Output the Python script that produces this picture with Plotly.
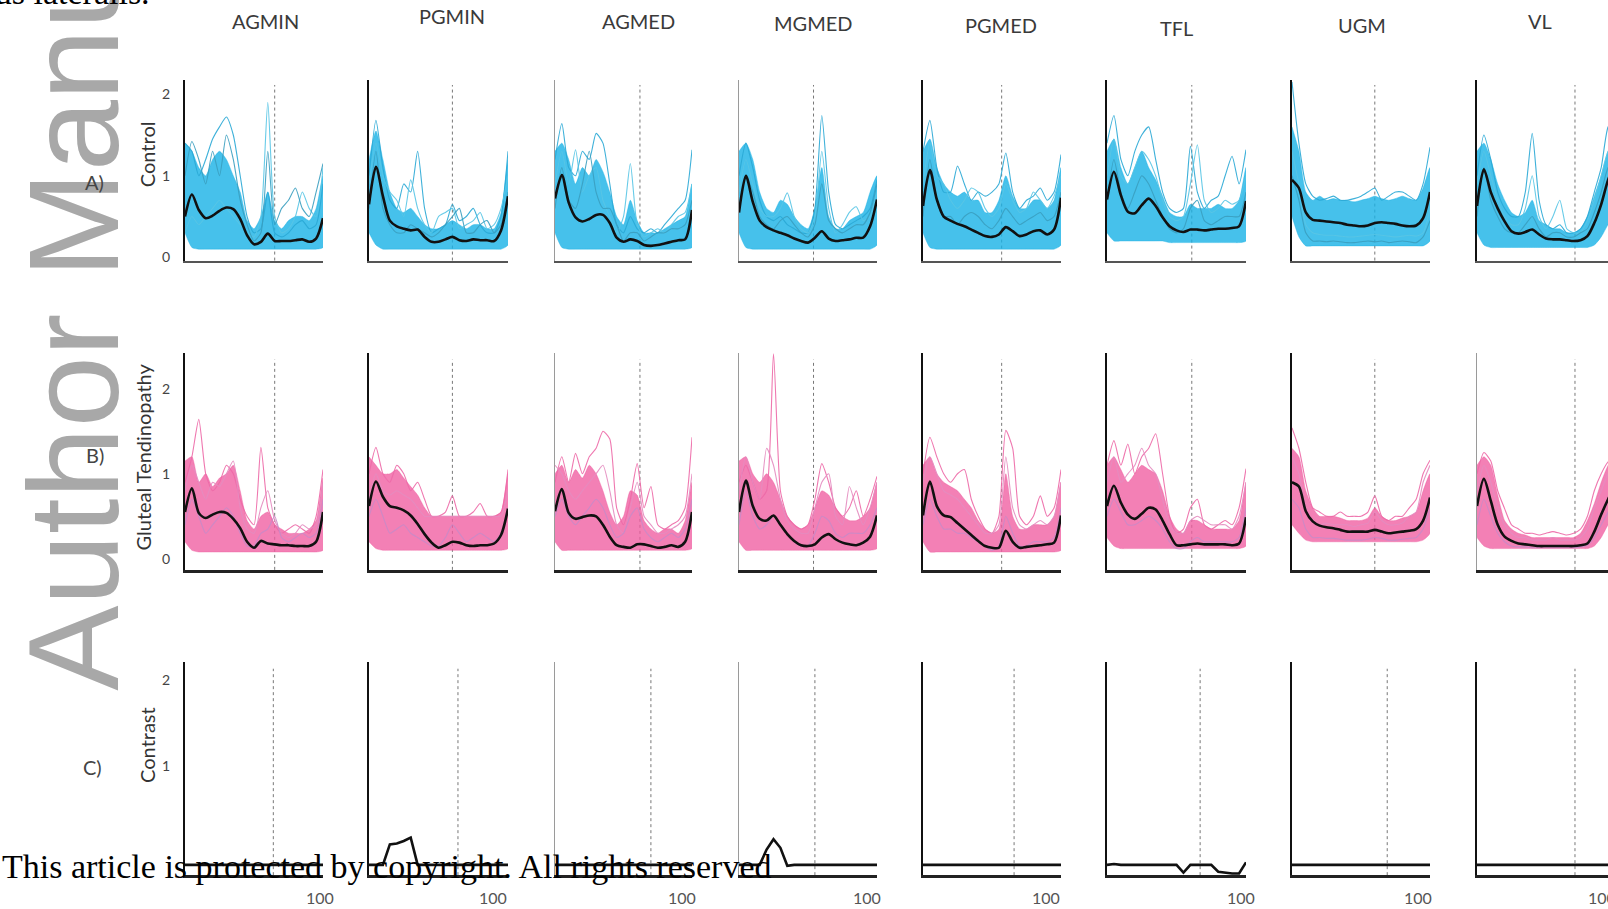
import plotly.graph_objects as go

W, H = 1608, 909

# ---------------- data ----------------
X = [0, 5, 10, 15, 20, 25, 30, 35, 40, 45, 50, 55, 60, 65, 70, 75, 80, 85, 90, 95, 100]
MUSCLES = ["AGMIN", "PGMIN", "AGMED", "MGMED", "PGMED", "TFL", "UGM", "VL"]
ROW_TITLES = ["Control", "Gluteal Tendinopathy", "Contrast"]
ROW_LETTERS = ["A)", "B)", "C)"]
EVENT_AB = [65, 60, 62, 54, 57, 61, 60, 71]
EVENT_C = [64, 64, 70, 55, 66, 67, 69, 71]

# Control (A)
ctl_AGMIN_mean = [0.50,0.77,0.58,0.48,0.51,0.57,0.61,0.59,0.47,0.27,0.16,0.19,0.29,0.20,0.20,0.20,0.21,0.22,0.19,0.23,0.48]
ctl_AGMIN_upper = [1.40,1.30,1.10,1.00,1.20,1.30,1.20,1.00,0.80,0.45,0.35,0.50,0.80,0.45,0.35,0.45,0.50,0.50,0.45,0.60,1.00]
ctl_AGMIN_floor = [0.30,0.12,0.10,0.10,0.10,0.10,0.10,0.10,0.10,0.10,0.10,0.10,0.10,0.10,0.10,0.10,0.10,0.10,0.10,0.10,0.12]
ctl_AGMIN_s1 = [1.40,1.30,1.00,1.20,1.45,1.60,1.72,1.50,1.00,0.50,0.30,0.35,0.80,0.30,0.25,0.30,0.40,0.45,0.35,0.40,0.90]
ctl_AGMIN_s2 = [0.30,0.50,0.40,0.50,0.60,0.70,0.60,0.50,0.40,0.30,0.25,0.50,1.90,0.50,0.30,0.35,0.50,0.80,0.60,0.50,1.10]
ctl_AGMIN_s3 = [1.00,1.42,1.20,0.90,1.30,1.00,1.50,1.20,0.70,0.40,0.20,0.30,1.30,0.40,0.60,0.70,0.85,0.60,0.50,0.80,1.15]

ctl_PGMIN_mean = [0.65,1.11,0.75,0.45,0.38,0.35,0.33,0.34,0.25,0.19,0.19,0.22,0.25,0.21,0.20,0.22,0.21,0.21,0.20,0.33,0.75]
ctl_PGMIN_upper = [1.20,1.55,1.20,0.80,0.60,0.55,0.60,0.50,0.40,0.35,0.35,0.40,0.45,0.40,0.35,0.40,0.40,0.35,0.35,0.55,1.20]
ctl_PGMIN_floor = [0.30,0.15,0.10,0.10,0.10,0.10,0.10,0.10,0.10,0.10,0.10,0.10,0.10,0.10,0.10,0.10,0.10,0.10,0.10,0.10,0.15]
ctl_PGMIN_s1 = [1.00,1.68,1.10,0.70,0.60,0.90,0.80,1.30,0.60,0.30,0.35,0.40,0.65,0.45,0.50,0.60,0.40,0.30,0.30,0.50,1.30]
ctl_PGMIN_s2 = [0.90,1.40,1.00,0.80,0.70,0.50,0.95,0.60,0.40,0.30,0.50,0.55,0.60,0.35,0.40,0.45,0.55,0.35,0.40,0.60,1.00]
ctl_PGMIN_s3 = [0.60,1.30,0.60,0.40,0.30,0.30,0.40,0.35,0.30,0.25,0.30,0.40,0.50,0.60,0.30,0.30,0.40,0.45,0.30,0.40,0.80]

ctl_AGMED_mean = [0.72,1.01,0.67,0.49,0.44,0.47,0.52,0.52,0.42,0.24,0.19,0.22,0.20,0.15,0.14,0.15,0.17,0.19,0.21,0.22,0.58]
ctl_AGMED_upper = [1.30,1.40,1.20,0.90,1.10,1.00,1.20,1.05,0.80,0.50,0.40,0.70,0.45,0.30,0.30,0.30,0.35,0.40,0.45,0.50,0.90]
ctl_AGMED_floor = [0.30,0.12,0.10,0.10,0.10,0.10,0.10,0.10,0.10,0.10,0.10,0.10,0.10,0.10,0.10,0.10,0.10,0.10,0.10,0.10,0.12]
ctl_AGMED_s1 = [1.20,1.64,1.10,1.00,1.30,1.20,1.52,1.40,0.90,0.40,0.30,0.50,0.35,0.30,0.35,0.30,0.40,0.50,0.60,0.70,1.32]
ctl_AGMED_s2 = [0.90,1.30,0.90,1.32,0.80,1.00,1.10,0.70,0.50,0.30,0.50,1.15,0.40,0.25,0.30,0.35,0.30,0.40,0.50,0.55,0.90]
ctl_AGMED_s3 = [0.60,1.10,0.70,0.60,0.90,1.30,0.80,0.60,0.60,0.40,0.20,0.30,0.30,0.20,0.25,0.30,0.30,0.35,0.35,0.40,0.70]

ctl_MGMED_mean = [0.55,1.00,0.68,0.45,0.37,0.33,0.30,0.27,0.23,0.20,0.18,0.24,0.32,0.23,0.20,0.21,0.22,0.24,0.24,0.38,0.71]
ctl_MGMED_upper = [1.30,1.40,1.20,0.80,0.60,0.55,0.70,0.65,0.50,0.40,0.35,0.60,1.10,0.50,0.35,0.35,0.45,0.50,0.55,0.80,1.00]
ctl_MGMED_floor = [0.30,0.12,0.10,0.10,0.10,0.10,0.10,0.10,0.10,0.10,0.10,0.10,0.10,0.10,0.10,0.10,0.10,0.10,0.10,0.10,0.15]
ctl_MGMED_s1 = [1.00,1.40,1.10,0.70,0.50,0.45,0.50,0.40,0.35,0.30,0.30,0.60,1.74,0.80,0.40,0.35,0.40,0.45,0.50,0.60,0.95]
ctl_MGMED_s2 = [0.80,1.20,0.90,0.60,0.50,0.50,0.60,0.79,0.50,0.35,0.30,0.50,1.30,0.60,0.30,0.40,0.55,0.62,0.45,0.50,0.80]
ctl_MGMED_s3 = [0.60,1.00,0.80,0.50,0.40,0.35,0.45,0.50,0.40,0.30,0.25,0.40,0.90,0.45,0.35,0.30,0.35,0.40,0.40,0.55,0.90]

ctl_PGMED_mean = [0.63,1.07,0.71,0.50,0.45,0.41,0.38,0.34,0.30,0.26,0.25,0.28,0.37,0.32,0.26,0.28,0.32,0.33,0.28,0.34,0.73]
ctl_PGMED_upper = [1.30,1.45,1.10,0.90,0.80,0.75,0.80,0.70,0.70,0.55,0.55,0.70,1.00,0.75,0.60,0.60,0.70,0.70,0.60,0.70,1.10]
ctl_PGMED_floor = [0.30,0.12,0.10,0.10,0.10,0.10,0.10,0.10,0.10,0.10,0.10,0.10,0.10,0.10,0.10,0.10,0.10,0.10,0.10,0.10,0.15]
ctl_PGMED_s1 = [1.30,1.68,1.10,0.80,0.80,1.12,0.90,0.70,0.80,0.75,0.80,0.90,1.28,0.80,0.60,0.70,0.75,0.85,0.70,0.80,1.26]
ctl_PGMED_s2 = [0.90,1.40,1.00,0.90,0.70,0.60,0.70,0.85,0.80,0.60,0.50,0.60,0.90,0.70,0.55,0.60,0.80,0.70,0.60,0.75,1.00]
ctl_PGMED_s3 = [0.50,1.20,0.70,0.50,0.50,0.40,0.50,0.55,0.50,0.40,0.35,0.45,0.60,0.50,0.40,0.45,0.50,0.55,0.45,0.50,0.80]

ctl_TFL_mean = [0.71,1.05,0.76,0.56,0.54,0.64,0.72,0.63,0.49,0.38,0.33,0.31,0.34,0.34,0.33,0.34,0.35,0.35,0.36,0.38,0.69]
ctl_TFL_upper = [1.30,1.45,1.10,0.90,1.10,1.30,1.10,0.95,0.75,0.55,0.50,0.50,0.65,0.60,0.60,0.60,0.65,0.60,0.60,0.70,1.10]
ctl_TFL_floor = [0.30,0.20,0.20,0.20,0.20,0.20,0.20,0.20,0.20,0.18,0.18,0.18,0.18,0.18,0.18,0.18,0.18,0.18,0.18,0.18,0.20]
ctl_TFL_s1 = [1.40,1.74,1.20,1.00,1.30,1.50,1.60,1.20,0.80,0.60,0.55,0.60,1.36,0.80,0.60,0.70,0.75,1.00,1.24,0.90,1.32]
ctl_TFL_s2 = [1.00,1.45,1.00,0.90,1.10,1.30,1.20,1.00,0.70,0.50,0.45,0.50,0.90,1.38,0.70,0.55,0.60,0.70,0.65,0.70,1.00]
ctl_TFL_s3 = [0.70,1.20,0.80,0.60,0.80,1.00,0.90,0.70,0.50,0.35,0.30,0.35,0.60,0.70,0.45,0.40,0.45,0.50,0.50,0.50,0.80]

ctl_UGM_mean = [0.95,0.85,0.55,0.46,0.45,0.44,0.43,0.42,0.40,0.39,0.38,0.39,0.42,0.43,0.42,0.41,0.39,0.38,0.39,0.48,0.80]
ctl_UGM_upper = [1.60,1.30,0.80,0.70,0.75,0.70,0.72,0.70,0.70,0.68,0.70,0.72,0.75,0.72,0.70,0.72,0.75,0.72,0.70,0.85,1.10]
ctl_UGM_floor = [0.50,0.25,0.14,0.14,0.14,0.14,0.14,0.14,0.14,0.14,0.14,0.14,0.14,0.14,0.14,0.14,0.14,0.14,0.14,0.14,0.20]
ctl_UGM_s1 = [2.15,1.40,0.90,0.75,0.70,0.72,0.75,0.70,0.70,0.72,0.75,0.80,0.85,0.70,0.75,0.80,0.80,0.75,0.70,0.90,1.35]
ctl_UGM_s2 = [1.30,0.90,0.40,0.30,0.28,0.27,0.27,0.26,0.25,0.25,0.26,0.27,0.28,0.27,0.26,0.25,0.26,0.27,0.26,0.30,0.60]
ctl_UGM_s3 = [1.00,0.70,0.30,0.20,0.20,0.19,0.20,0.19,0.18,0.18,0.19,0.20,0.19,0.20,0.18,0.19,0.20,0.19,0.18,0.25,0.45]

ctl_VL_mean = [0.63,1.08,0.80,0.60,0.44,0.32,0.29,0.31,0.34,0.28,0.23,0.22,0.22,0.21,0.20,0.21,0.26,0.42,0.65,0.95,1.15]
ctl_VL_upper = [1.30,1.40,1.20,0.90,0.70,0.55,0.50,0.55,0.70,0.45,0.40,0.35,0.35,0.30,0.30,0.35,0.50,0.75,1.00,1.30,1.40]
ctl_VL_floor = [0.30,0.15,0.12,0.12,0.12,0.12,0.12,0.12,0.12,0.12,0.12,0.12,0.12,0.12,0.12,0.12,0.12,0.15,0.25,0.40,0.50]
ctl_VL_s1 = [1.00,1.50,1.20,0.80,0.60,0.50,0.50,0.80,1.52,0.70,0.40,0.35,0.40,0.30,0.30,0.35,0.50,0.80,1.10,1.60,1.70]
ctl_VL_s2 = [0.90,1.30,1.00,0.70,0.50,0.40,0.40,0.60,1.00,0.50,0.35,0.50,0.70,0.35,0.30,0.30,0.45,0.70,1.00,1.30,1.40]
ctl_VL_s3 = [0.50,1.10,0.70,0.50,0.35,0.30,0.30,0.40,0.50,0.35,0.25,0.30,0.30,0.25,0.25,0.30,0.35,0.55,0.80,1.10,1.20]

# Gluteal tendinopathy (B)
gt_AGMIN_mean = [0.55,0.83,0.54,0.48,0.52,0.55,0.54,0.47,0.36,0.20,0.13,0.21,0.18,0.17,0.16,0.16,0.15,0.15,0.15,0.20,0.55]
gt_AGMIN_upper = [1.15,1.20,0.90,1.00,0.85,0.95,1.00,1.10,0.80,0.45,0.35,0.50,0.55,0.40,0.35,0.30,0.30,0.30,0.35,0.45,0.95]
gt_AGMIN_floor = [0.20,0.10,0.08,0.08,0.08,0.08,0.08,0.08,0.08,0.08,0.08,0.08,0.08,0.08,0.08,0.08,0.08,0.08,0.08,0.08,0.10]
gt_AGMIN_s1 = [0.90,1.20,1.64,1.00,0.80,0.90,1.10,1.00,0.70,0.50,0.40,1.31,0.60,0.40,0.30,0.35,0.40,0.35,0.30,0.50,1.05]
gt_AGMIN_s2 = [0.80,1.10,0.90,0.70,0.90,0.85,1.00,1.15,0.60,0.35,0.30,0.60,0.80,0.45,0.30,0.25,0.30,0.40,0.35,0.40,0.90]
gt_AGMIN_s3 = [0.40,0.70,0.50,0.30,0.40,0.50,0.60,0.50,0.30,0.15,0.15,0.30,0.35,0.50,0.25,0.20,0.25,0.30,0.25,0.30,0.70]

gt_PGMIN_mean = [0.62,0.91,0.73,0.62,0.60,0.57,0.51,0.41,0.29,0.19,0.13,0.16,0.20,0.19,0.16,0.15,0.16,0.16,0.18,0.28,0.59]
gt_PGMIN_upper = [1.20,1.10,1.00,1.00,1.05,0.95,0.85,0.75,0.60,0.50,0.50,0.50,0.50,0.50,0.50,0.50,0.50,0.50,0.50,0.55,1.00]
gt_PGMIN_floor = [0.20,0.12,0.10,0.10,0.10,0.10,0.10,0.10,0.10,0.10,0.10,0.10,0.10,0.10,0.10,0.10,0.10,0.10,0.10,0.10,0.12]
gt_PGMIN_s1 = [1.00,1.31,1.00,0.90,1.10,1.00,0.80,0.90,0.70,0.50,0.50,0.55,0.74,0.50,0.50,0.55,0.65,0.50,0.50,0.55,1.05]
gt_PGMIN_s2 = [0.70,1.00,0.80,0.75,0.80,0.75,0.70,0.60,0.50,0.50,0.50,0.50,0.50,0.50,0.50,0.50,0.50,0.50,0.50,0.50,0.80]
gt_PGMIN_s3 = [0.50,0.70,0.50,0.30,0.35,0.40,0.30,0.25,0.20,0.15,0.15,0.25,0.40,0.30,0.20,0.25,0.30,0.25,0.20,0.30,0.60]

gt_AGMED_mean = [0.56,0.82,0.54,0.47,0.49,0.51,0.50,0.40,0.26,0.16,0.14,0.13,0.17,0.17,0.15,0.13,0.14,0.16,0.14,0.20,0.55]
gt_AGMED_upper = [1.00,1.10,0.90,1.05,0.95,1.10,1.00,0.80,0.55,0.40,0.50,0.80,0.75,0.45,0.35,0.30,0.35,0.35,0.30,0.45,0.90]
gt_AGMED_floor = [0.20,0.10,0.10,0.10,0.10,0.10,0.10,0.10,0.10,0.10,0.10,0.10,0.10,0.10,0.10,0.10,0.10,0.10,0.10,0.10,0.12]
gt_AGMED_s1 = [0.90,1.20,0.90,1.24,1.00,1.20,1.30,1.50,1.41,0.60,0.40,0.70,1.12,0.60,0.85,0.40,0.35,0.40,0.45,0.60,1.43]
gt_AGMED_s2 = [1.10,1.00,0.80,0.70,0.80,0.90,1.00,1.10,0.80,0.40,0.30,0.60,0.90,0.50,0.40,0.30,0.30,0.35,0.40,0.50,1.00]
gt_AGMED_s3 = [0.50,0.70,0.50,0.40,0.50,0.60,0.70,0.60,0.40,0.25,0.30,0.50,0.60,0.35,0.25,0.20,0.25,0.30,0.25,0.35,0.70]

gt_MGMED_mean = [0.55,0.92,0.62,0.47,0.45,0.51,0.40,0.29,0.21,0.16,0.15,0.17,0.25,0.29,0.23,0.19,0.17,0.16,0.19,0.26,0.51]
gt_MGMED_upper = [1.15,1.20,1.00,0.90,1.00,0.90,0.70,0.50,0.40,0.35,0.40,0.60,0.80,0.75,0.60,0.50,0.45,0.45,0.50,0.60,0.90]
gt_MGMED_floor = [0.20,0.10,0.10,0.10,0.10,0.10,0.10,0.10,0.10,0.10,0.10,0.10,0.10,0.10,0.10,0.10,0.10,0.10,0.10,0.10,0.12]
gt_MGMED_s1 = [0.90,1.10,0.90,0.70,0.80,2.41,0.80,0.50,0.40,0.35,0.40,0.70,1.12,0.90,0.60,0.50,0.60,0.80,0.50,0.70,0.97]
gt_MGMED_s2 = [0.80,1.20,0.90,0.70,1.30,1.10,0.70,0.45,0.35,0.30,0.30,0.60,0.90,1.00,0.50,0.40,0.85,0.60,0.40,0.60,0.90]
gt_MGMED_s3 = [0.40,0.80,0.50,0.35,0.40,0.50,0.40,0.30,0.20,0.15,0.15,0.30,0.50,0.45,0.30,0.25,0.30,0.30,0.30,0.40,0.60]

gt_PGMED_mean = [0.51,0.91,0.62,0.51,0.49,0.42,0.35,0.28,0.21,0.15,0.13,0.13,0.33,0.20,0.13,0.14,0.15,0.16,0.17,0.19,0.51]
gt_PGMED_upper = [1.10,1.20,1.00,0.90,0.85,0.80,0.70,0.60,0.45,0.35,0.30,0.35,1.00,0.50,0.35,0.35,0.40,0.40,0.40,0.50,0.90]
gt_PGMED_floor = [0.20,0.08,0.08,0.08,0.08,0.08,0.08,0.08,0.08,0.08,0.08,0.08,0.08,0.08,0.08,0.08,0.08,0.08,0.08,0.08,0.10]
gt_PGMED_s1 = [1.00,1.43,1.20,1.00,0.90,1.00,1.05,0.70,0.50,0.35,0.30,0.50,1.51,1.30,0.50,0.40,0.50,0.74,0.50,0.60,1.05]
gt_PGMED_s2 = [0.90,1.20,1.00,0.80,0.75,0.70,0.60,0.50,0.40,0.30,0.30,0.40,1.20,0.60,0.40,0.35,0.40,0.45,0.40,0.50,0.90]
gt_PGMED_s3 = [0.40,0.70,0.50,0.35,0.35,0.30,0.30,0.25,0.20,0.15,0.10,0.15,0.50,0.30,0.15,0.15,0.20,0.20,0.20,0.25,0.60]

gt_TFL_mean = [0.62,0.86,0.66,0.52,0.47,0.53,0.60,0.58,0.45,0.29,0.16,0.16,0.17,0.18,0.17,0.17,0.17,0.17,0.16,0.18,0.49]
gt_TFL_upper = [1.10,1.20,1.05,0.90,1.00,1.10,1.05,1.00,0.80,0.50,0.35,0.30,0.45,0.45,0.40,0.35,0.35,0.35,0.35,0.45,0.90]
gt_TFL_floor = [0.25,0.15,0.12,0.12,0.12,0.12,0.12,0.12,0.12,0.12,0.12,0.12,0.12,0.12,0.12,0.12,0.12,0.12,0.12,0.12,0.15]
gt_TFL_s1 = [1.10,1.39,1.10,1.35,1.00,1.20,1.30,1.47,1.00,0.50,0.30,0.35,0.60,0.70,0.40,0.35,0.40,0.45,0.40,0.60,1.06]
gt_TFL_s2 = [0.90,1.20,0.90,1.00,1.10,1.30,1.10,1.00,0.70,0.40,0.30,0.30,0.45,0.50,0.45,0.40,0.40,0.40,0.35,0.50,0.90]
gt_TFL_s3 = [0.50,0.70,0.55,0.40,0.40,0.45,0.50,0.45,0.35,0.20,0.12,0.12,0.20,0.25,0.20,0.20,0.20,0.20,0.20,0.25,0.60]

gt_UGM_mean = [0.90,0.85,0.56,0.44,0.39,0.37,0.36,0.34,0.32,0.32,0.32,0.32,0.34,0.32,0.30,0.31,0.32,0.33,0.35,0.45,0.72]
gt_UGM_upper = [1.30,1.20,0.80,0.60,0.50,0.50,0.50,0.48,0.45,0.45,0.45,0.48,0.60,0.50,0.45,0.45,0.48,0.50,0.55,0.80,1.00]
gt_UGM_floor = [0.40,0.30,0.22,0.20,0.20,0.20,0.20,0.20,0.20,0.20,0.20,0.20,0.20,0.20,0.20,0.20,0.20,0.20,0.20,0.22,0.30]
gt_UGM_s1 = [1.54,1.30,0.90,0.60,0.55,0.50,0.50,0.55,0.50,0.50,0.50,0.55,0.74,0.50,0.45,0.50,0.50,0.60,0.70,1.00,1.16]
gt_UGM_s2 = [1.20,1.00,0.60,0.45,0.40,0.42,0.40,0.40,0.40,0.38,0.40,0.42,0.55,0.45,0.40,0.40,0.42,0.50,0.55,0.90,1.10]
gt_UGM_s3 = [0.70,0.60,0.35,0.25,0.25,0.24,0.24,0.23,0.22,0.22,0.22,0.23,0.25,0.24,0.22,0.22,0.23,0.24,0.25,0.35,0.60]

gt_VL_mean = [0.62,0.94,0.68,0.40,0.26,0.21,0.18,0.17,0.16,0.15,0.15,0.15,0.15,0.15,0.15,0.16,0.18,0.32,0.52,0.70,0.85]
gt_VL_upper = [1.10,1.20,1.10,0.75,0.45,0.35,0.30,0.28,0.25,0.25,0.25,0.25,0.25,0.25,0.25,0.30,0.45,0.65,0.90,1.10,1.20]
gt_VL_floor = [0.25,0.15,0.12,0.12,0.12,0.12,0.12,0.12,0.12,0.12,0.12,0.12,0.12,0.12,0.12,0.12,0.12,0.15,0.25,0.40,0.50]
gt_VL_s1 = [1.00,1.25,1.15,0.80,0.59,0.40,0.35,0.30,0.30,0.28,0.30,0.32,0.30,0.28,0.30,0.35,0.50,0.80,1.00,1.14,1.20]
gt_VL_s2 = [0.80,1.10,0.90,0.60,0.40,0.30,0.25,0.25,0.22,0.22,0.22,0.25,0.22,0.22,0.22,0.25,0.35,0.60,0.80,1.00,1.10]
gt_VL_s3 = [0.40,0.70,0.50,0.30,0.20,0.15,0.14,0.14,0.13,0.13,0.13,0.13,0.13,0.13,0.13,0.14,0.16,0.25,0.40,0.55,0.70]

# Contrast (C)
con_AGMIN = [-0.16,-0.16,-0.16,-0.16,-0.16,-0.16,-0.16,-0.16,-0.16,-0.16,-0.16,-0.16,-0.16,-0.16,-0.16,-0.16,-0.16,-0.16,-0.16,-0.16,-0.16]
con_PGMIN = [-0.16,-0.16,-0.16,0.08,0.09,0.12,0.16,-0.16,-0.16,-0.16,-0.16,-0.16,-0.16,-0.16,-0.16,-0.16,-0.16,-0.16,-0.16,-0.16,-0.16]
con_AGMED = [-0.16,-0.16,-0.16,-0.16,-0.16,-0.16,-0.16,-0.16,-0.16,-0.16,-0.16,-0.16,-0.16,-0.16,-0.16,-0.16,-0.16,-0.16,-0.16,-0.16,-0.16]
con_MGMED = [-0.16,-0.16,-0.16,-0.16,0.02,0.14,0.04,-0.17,-0.16,-0.16,-0.16,-0.16,-0.16,-0.16,-0.16,-0.16,-0.16,-0.16,-0.16,-0.16,-0.16]
con_PGMED = [-0.16,-0.16,-0.16,-0.16,-0.16,-0.16,-0.16,-0.16,-0.16,-0.16,-0.16,-0.16,-0.16,-0.16,-0.16,-0.16,-0.16,-0.16,-0.16,-0.16,-0.16]
con_TFL = [-0.16,-0.15,-0.16,-0.16,-0.16,-0.16,-0.16,-0.16,-0.16,-0.16,-0.16,-0.25,-0.16,-0.16,-0.16,-0.16,-0.24,-0.25,-0.26,-0.26,-0.13]
con_UGM = [-0.16,-0.16,-0.16,-0.16,-0.16,-0.16,-0.16,-0.16,-0.16,-0.16,-0.16,-0.16,-0.16,-0.16,-0.16,-0.16,-0.16,-0.16,-0.16,-0.16,-0.16]
con_VL = [-0.16,-0.16,-0.16,-0.16,-0.16,-0.16,-0.16,-0.16,-0.16,-0.16,-0.16,-0.16,-0.16,-0.16,-0.16,-0.16,-0.16,-0.16,-0.16,-0.16,-0.16]

# ---------------- assemble ----------------
g = globals()
GROUPS = []
for prefix in ["ctl", "gt"]:
    GROUPS.append([dict(mean=g[f"{prefix}_{m}_mean"], upper=g[f"{prefix}_{m}_upper"],
                        floor=g[f"{prefix}_{m}_floor"],
                        singles=[g[f"{prefix}_{m}_s1"], g[f"{prefix}_{m}_s2"], g[f"{prefix}_{m}_s3"]])
                   for m in MUSCLES])
CONTRAST = [g[f"con_{m}"] for m in MUSCLES]

FILL = ["rgba(24,178,230,0.80)", "rgba(240,92,160,0.78)"]
SINGLE = [["#2aa9d6", "#58c6e6", "#3a9fc0"], ["#ee6aa8", "#e58cc0", "#c98ac8"]]

col_left = [185, 369, 555, 739, 923, 1107, 1292, 1477]
col_right = [323, 508, 692, 877, 1061, 1246, 1430, 1608]
panel_w = 138.0
row_top = [80, 355, 666]
row_bot = [262, 573, 880]
row_yrange = [[-0.04, 2.18], [-0.13, 2.42], [-0.28, 2.21]]
xline = [("#555555", 2), ("#222222", 2.5), ("#222222", 2.5)]
yline_kind = [[1, 1, 0, 0, 1, 1, 1, 1], [1, 1, 0, 0, 1, 1, 1, 0], [1, 1, 0, 0, 1, 1, 1, 1]]
label100_shift = [-3, -15, -10, -10, -15, -5, -12, -13]

fig = go.Figure()
shapes = []
layout_axes = {}

def ax_names(n):
    return ("x" if n == 1 else f"x{n}", "y" if n == 1 else f"y{n}",
            "xaxis" if n == 1 else f"xaxis{n}", "yaxis" if n == 1 else f"yaxis{n}")

xmaxes = []
for r in range(3):
    for c in range(8):
        n = r * 8 + c + 1
        xr, yr, xa, ya = ax_names(n)
        xmax = 100 * (col_right[c] - col_left[c]) / panel_w if c == 7 else 100
        if r == 0:
            xmaxes.append(xmax)
        layout_axes[xa] = dict(domain=[col_left[c] / W, col_right[c] / W], range=[0, xmax],
                               anchor=yr, showgrid=False, zeroline=False, showticklabels=False,
                               ticks="", showline=True, linecolor=xline[r][0], linewidth=xline[r][1])
        kind = yline_kind[r][c]
        yl = dict(domain=[1 - row_bot[r] / H, 1 - row_top[r] / H], range=row_yrange[r],
                  anchor=xr, showgrid=False, zeroline=False, ticks="",
                  showline=True, linecolor="#111111" if kind else "#9a9a9a",
                  linewidth=2 if kind else 1)
        if c == 0:
            yl.update(showticklabels=True, tickvals=[0, 1, 2] if r < 2 else [1, 2],
                      tickfont=dict(family="Lato", size=14, color="#444444"), ticklabelstandoff=10)
        else:
            yl.update(showticklabels=False)
        layout_axes[ya] = yl
        ev = EVENT_AB[c] if r < 2 else EVENT_C[c]
        shapes.append(dict(type="line", xref=xr, yref=f"{yr} domain", x0=ev, x1=ev, y0=0, y1=0.97,
                           line=dict(color="#777777", width=1, dash="dot"), layer="below"))
        if r < 2:
            d = GROUPS[r][c]
            fig.add_trace(go.Scatter(x=X + X[::-1], y=d["upper"] + d["floor"][::-1], xaxis=xr, yaxis=yr,
                                     mode="lines", fill="toself", fillcolor=FILL[r],
                                     line=dict(color=FILL[r], width=0.5, shape="spline", smoothing=0.6),
                                     showlegend=False, hoverinfo="skip"))
            for k, s in enumerate(d["singles"]):
                fig.add_trace(go.Scatter(x=X, y=s, xaxis=xr, yaxis=yr, mode="lines",
                                         line=dict(color=SINGLE[r][k], width=1.1, shape="spline", smoothing=0.6),
                                         opacity=0.9, showlegend=False, hoverinfo="skip"))
            fig.add_trace(go.Scatter(x=X, y=d["mean"], xaxis=xr, yaxis=yr, mode="lines",
                                     line=dict(color="#111111", width=2.6, shape="spline", smoothing=0.8),
                                     showlegend=False))
        else:
            fig.add_trace(go.Scatter(x=X, y=CONTRAST[c], xaxis=xr, yaxis=yr, mode="lines",
                                     line=dict(color="#111111", width=2.6),
                                     showlegend=False))

def P(px, py):
    return px / W, 1 - py / H

ann = []
wx, wy = P(74, 697)
ann.append(dict(text="Author Manuscript", x=wx, y=wy, xref="paper", yref="paper", xanchor="center",
                yanchor="bottom", textangle=-90, showarrow=False,
                font=dict(family="Liberation Sans, Arial", size=128, color="#a8a8a8")))
cx, cy = P(152, 13)
ann.append(dict(text="vastus lateralis.", x=cx, y=cy, xref="paper", yref="paper", xanchor="right",
                yanchor="bottom", showarrow=False, font=dict(family="Liberation Serif", size=34, color="#000")))
title_x = [265, 452, 638, 813, 1001, 1176, 1362, 1540]
title_y = [21, 16, 21, 23, 25, 28, 25, 21]
for c, m in enumerate(MUSCLES):
    tx, ty = P(title_x[c], title_y[c])
    ann.append(dict(text=m, x=tx, y=ty, xref="paper", yref="paper", xanchor="center", yanchor="middle",
                    showarrow=False, font=dict(family="Lato", size=20, color="#3a3a3a")))
letter_pos = [(94, 183), (95, 458), (92, 771)]
rtitle_pos = [(147, 155), (143, 460), (147, 749)]
for r in range(3):
    lx, ly = P(*letter_pos[r])
    ann.append(dict(text=ROW_LETTERS[r], x=lx, y=ly, xref="paper", yref="paper", xanchor="center",
                    yanchor="middle", showarrow=False, font=dict(family="Lato", size=20, color="#444444")))
    tx, ty = P(*rtitle_pos[r])
    ann.append(dict(text=ROW_TITLES[r], x=tx, y=ty, xref="paper", yref="paper", xanchor="center",
                    yanchor="middle", showarrow=False, textangle=-90,
                    font=dict(family="Lato", size=20, color="#333333")))
for c in range(8):
    n = 16 + c + 1
    xm = xmaxes[c]
    shift = label100_shift[c] + (100 - xm) * panel_w / 100
    ann.append(dict(text="100", x=xm, xref=f"x{n}", y=P(0, 902)[1], yref="paper", xshift=shift,
                    xanchor="center", yanchor="middle",
                    showarrow=False, font=dict(family="Lato", size=16, color="#555555")))
fx, fy = P(0, 871)
ann.append(dict(text="This article is protected by copyright. All rights reserved", x=fx, y=fy,
                xref="paper", yref="paper", xanchor="left", yanchor="middle", showarrow=False,
                font=dict(family="Liberation Serif", size=34, color="#000000")))

fig.update_layout(width=W, height=H, margin=dict(l=0, r=0, t=0, b=0, pad=0), autosize=False,
                  paper_bgcolor="white", plot_bgcolor="white", showlegend=False,
                  shapes=shapes, annotations=ann, **layout_axes)
fig.write_html("out.html", config={"displayModeBar": False},
               post_script="document.body.style.margin='0px';document.body.style.overflow='hidden';")
